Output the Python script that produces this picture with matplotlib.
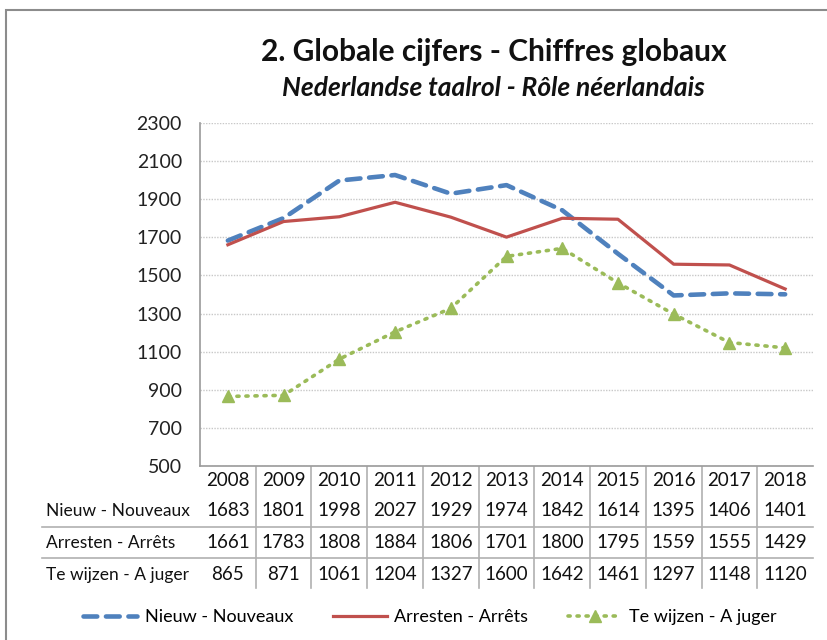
import matplotlib
matplotlib.use("Agg")
import matplotlib.pyplot as plt
from matplotlib.lines import Line2D
from matplotlib.patches import Rectangle
from matplotlib.transforms import blended_transform_factory

plt.rcParams['font.family'] = ['Lato', 'DejaVu Sans']

years = ["2008", "2009", "2010", "2011", "2012", "2013", "2014", "2015", "2016", "2017", "2018"]
nieuw = [1683, 1801, 1998, 2027, 1929, 1974, 1842, 1614, 1395, 1406, 1401]
arresten = [1661, 1783, 1808, 1884, 1806, 1701, 1800, 1795, 1559, 1555, 1429]
te_wijzen = [865, 871, 1061, 1204, 1327, 1600, 1642, 1461, 1297, 1148, 1120]
series_names = ["Nieuw - Nouveaux", "Arresten - Arrêts", "Te wijzen - A juger"]
yticks = [500, 700, 900, 1100, 1300, 1500, 1700, 1900, 2100, 2300]

W, H = 827, 640
fig = plt.figure(figsize=(W / 100, H / 100), dpi=100)

def fx(px):
    return px / W

def fy(py):
    return 1 - py / H

# outer frame
fig.add_artist(Rectangle((fx(6), fy(700)), fx(900), fy(10) - fy(700), transform=fig.transFigure,
                         fill=False, edgecolor="#8c8c8c", linewidth=1.5))

ax = fig.add_axes([fx(200), fy(466), fx(813) - fx(200), fy(123) - fy(466)])
x = list(range(len(years)))

blue = "#4F81BD"
red = "#C0504D"
green = "#9BBB59"

l1, = ax.plot(x, nieuw, color=blue, linewidth=3.3, dashes=(3.0, 1.9), dash_capstyle='round',
              label=series_names[0])
l2, = ax.plot(x, arresten, color=red, linewidth=2.3, label=series_names[1])
l3, = ax.plot(x, te_wijzen, color=green, linewidth=2.6, linestyle=(0, (0.6, 1.9)),
              dash_capstyle='round', marker='^', markersize=8, markeredgecolor=green,
              markerfacecolor=green, label=series_names[2])

ax.set_xlim(-0.5, len(years) - 0.5)
ax.set_ylim(500, 2300)
ax.set_yticks(yticks)
ax.set_xticks([])
ax.tick_params(axis='y', length=0, pad=13, labelsize=14, labelcolor="#222222")
ax.grid(axis='y', color="#c8c8c8", linestyle=(0, (1, 1)), linewidth=1)
ax.set_axisbelow(True)
for s in ["top", "right"]:
    ax.spines[s].set_visible(False)
for s in ["left", "bottom"]:
    ax.spines[s].set_color("#9a9a9a")
    ax.spines[s].set_linewidth(1.2)

# title
fig.text(fx(494), fy(52), "2. Globale cijfers - Chiffres globaux", ha='center', va='center',
         fontsize=21.5, fontweight='bold', color="#111111")
fig.text(fx(493), fy(88), "Nederlandse taalrol - Rôle néerlandais", ha='center', va='center',
         fontsize=19, fontstyle='italic', fontweight='bold', color="#111111")

# data table
tr = blended_transform_factory(ax.transData, fig.transFigure)
row_y = [511, 543, 575]
for i, yr in enumerate(years):
    ax.text(i, fy(481), yr, transform=tr, ha='center', va='center', fontsize=13.5, color="#111111",
            clip_on=False)
rows = [nieuw, arresten, te_wijzen]
for r, vals in enumerate(rows):
    fig.text(fx(46), fy(row_y[r]), series_names[r], ha='left', va='center', fontsize=12.5,
             color="#111111")
    for i, v in enumerate(vals):
        ax.text(i, fy(row_y[r]), str(v), transform=tr, ha='center', va='center', fontsize=13.5,
                color="#111111", clip_on=False)

grid_c = "#b0b0b0"
for i in range(1, len(years)):
    ax.add_artist(Line2D([i - 0.5, i - 0.5], [fy(467), fy(588)], transform=tr, color=grid_c,
                         linewidth=1.2, clip_on=False))
for yy in [527, 558]:
    fig.add_artist(Line2D([fx(42), fx(813)], [fy(yy), fy(yy)], transform=fig.transFigure,
                          color=grid_c, linewidth=1.2))

fig.legend(handles=[l1, l2, l3], loc='center', bbox_to_anchor=(fx(430), fy(617)), ncol=3,
           frameon=False, fontsize=13, handlelength=3.0, columnspacing=2.2, handletextpad=0.4)

fig.savefig("out.png", dpi=100)
